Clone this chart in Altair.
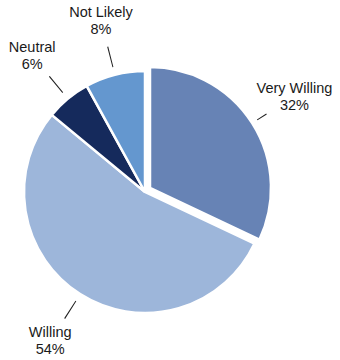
import altair as alt
import pandas as pd

categories = ["Very Willing", "Willing", "Neutral", "Not Likely"]
percents = [32, 54, 6, 8]
colors = ["#6783b5", "#9db6da", "#152a5c", "#6497cf"]

ends = pd.Series(percents).cumsum()
df = pd.DataFrame({
    "cat": categories,
    "pct": percents,
    "start": ends - pd.Series(percents),
    "end": ends,
})
df["mid"] = (df["start"] + df["end"]) / 2
df["label"] = [f"{c}\n{p}%" for c, p in zip(categories, percents)]

theta_scale = alt.Scale(domain=[0, 100], range=[0, 6.283185307179586])
color_scale = alt.Scale(domain=categories, range=colors)

base = alt.Chart(df)

CX, CY = 145, 192
EX, EY = 150, 188
R = 121

main_arcs = base.transform_filter("datum.cat != 'Very Willing'").mark_arc(
    radius=R, stroke="white", strokeWidth=2.5
).encode(
    theta=alt.Theta("start:Q", scale=theta_scale),
    theta2="end:Q",
    color=alt.Color("cat:N", scale=color_scale, legend=None),
    x=alt.value(CX), y=alt.value(CY),
)

explode_arc = base.transform_filter("datum.cat == 'Very Willing'").mark_arc(
    radius=R, stroke="white", strokeWidth=2.5
).encode(
    theta=alt.Theta("start:Q", scale=theta_scale),
    theta2="end:Q",
    color=alt.Color("cat:N", scale=color_scale, legend=None),
    x=alt.value(EX), y=alt.value(EY),
)

leaders_main = base.transform_filter("datum.cat != 'Very Willing'").transform_calculate(
    t1="datum.mid - 0.06", t2="datum.mid + 0.06"
).mark_arc(radius=150, radius2=129, color="#222222").encode(
    theta=alt.Theta("t1:Q", scale=theta_scale),
    theta2="t2:Q",
    x=alt.value(CX), y=alt.value(CY),
)

leaders_exp = base.transform_filter("datum.cat == 'Very Willing'").transform_calculate(
    t1="datum.mid - 0.06", t2="datum.mid + 0.06"
).mark_arc(radius=138, radius2=127, color="#222222").encode(
    theta=alt.Theta("t1:Q", scale=theta_scale),
    theta2="t2:Q",
    x=alt.value(EX), y=alt.value(EY),
)

labels = base.mark_text(
    radius=177, lineBreak="\n", font="Liberation Sans", fontSize=14.5,
    color="#1a1a1a", align="center", baseline="middle", lineHeight=17, dy=-8
).encode(
    theta=alt.Theta("mid:Q", scale=theta_scale),
    text="label:N",
    x=alt.value(CX), y=alt.value(CY),
)

chart = alt.layer(main_arcs, explode_arc, leaders_main, leaders_exp, labels).properties(
    width=340, height=360, padding=0, autosize="none", background="white"
).configure_view(stroke=None)

chart.save("out.html", embed_options={"renderer": "svg", "actions": False})
